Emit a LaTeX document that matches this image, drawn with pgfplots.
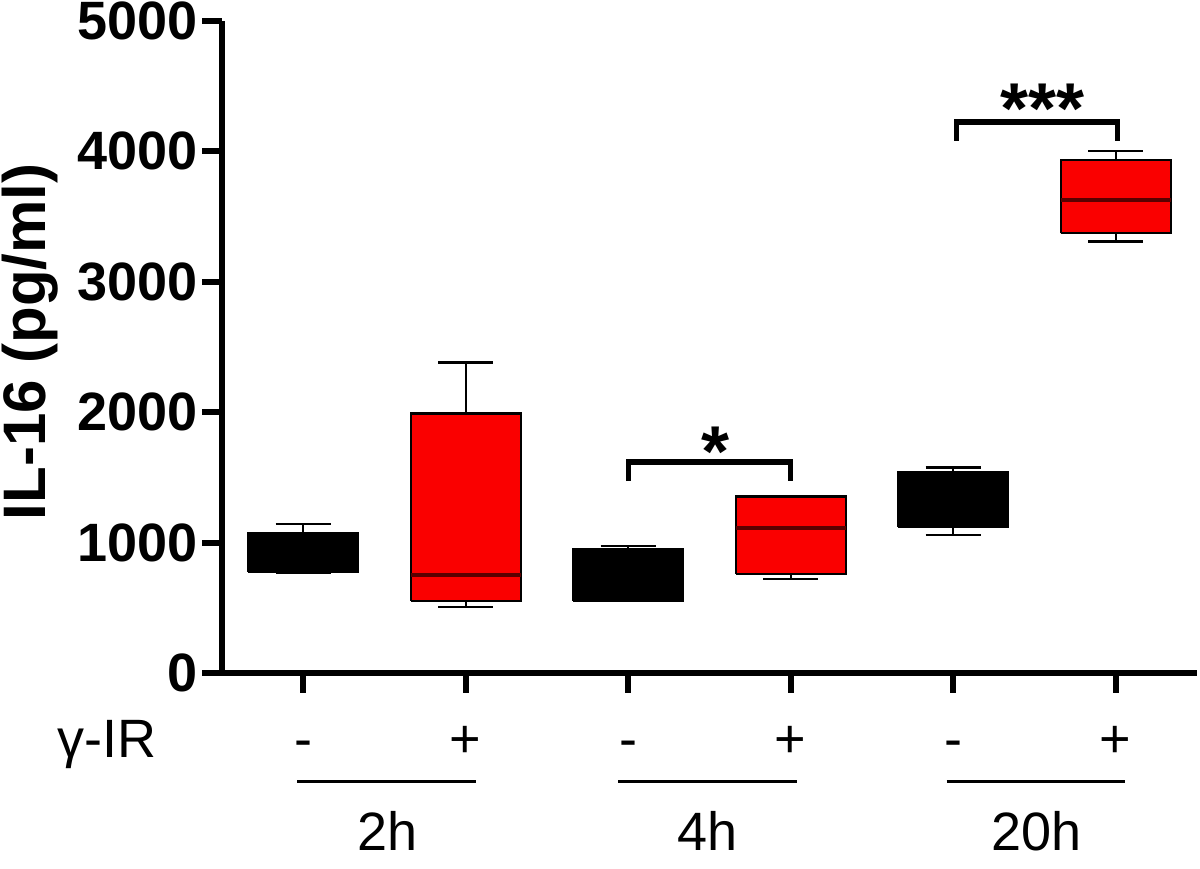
\documentclass[border=0pt]{standalone}
\usepackage{fontspec}
\setmainfont{Liberation Sans}
\usepackage{pgfplots}
\pgfplotsset{compat=1.18}

\definecolor{boxred}{RGB}{250,0,0}
\definecolor{medred}{RGB}{90,0,0}

\newcommand\tickf{\bfseries\fontsize{27bp}{32bp}\selectfont}
\newcommand\ylabf{\bfseries\fontsize{30bp}{36bp}\selectfont}
\newcommand\botf{\fontsize{27bp}{32bp}\selectfont}
\newcommand\starf{\bfseries\fontsize{36bp}{40bp}\selectfont}

\begin{document}
\begin{tikzpicture}[every node/.append style={inner sep=0pt}]
\begin{axis}[
    scale only axis,
    width=487.5bp, height=326bp,
    xmin=0.5, xmax=6.5, ymin=0, ymax=5000,
    axis x line*=bottom, axis y line*=left,
    axis line style={line width=3bp},
    xtick={1,2,3,4,5,6}, xticklabels={,,,,,},
    ytick={0,1000,2000,3000,4000,5000},
    tick align=outside, major tick length=10bp,
    major tick style={line width=3bp, black},
    /pgf/number format/assume math mode=true,
    /pgf/number format/1000 sep={},
    yticklabel style={font=\tickf, inner sep=0pt, xshift=-2bp},
    ylabel={IL-16 (pg/ml)},
    ylabel style={font=\ylabf, inner sep=0pt, at={(axis description cs:-0.1815,0.508)}, anchor=base},
    clip=false,
    every axis plot/.append style={line width=1.2bp, mark=none},
]

% boxes: lower quartile to upper quartile, half width 0.3385
% 2h -
\addplot[draw=black, fill=black] coordinates {(0.6615,776) (1.3385,776) (1.3385,1075) (0.6615,1075) (0.6615,776)};
\addplot[black] coordinates {(1,1075) (1,1144)};
\addplot[black] coordinates {(0.83,1144) (1.17,1144)};
\addplot[black] coordinates {(0.83,765) (1.17,765)};
% 2h +
\addplot[draw=black, fill=boxred] coordinates {(1.6615,553) (2.3385,553) (2.3385,1990) (1.6615,1990) (1.6615,553)};
\addplot[medred, line width=2bp] coordinates {(1.6615,753) (2.3385,753)};
\addplot[black] coordinates {(2,1990) (2,2381)};
\addplot[black] coordinates {(1.83,2381) (2.17,2381)};
\addplot[black] coordinates {(2,553) (2,507)};
\addplot[black] coordinates {(1.83,507) (2.17,507)};
% 4h -
\addplot[draw=black, fill=black] coordinates {(2.6615,553) (3.3385,553) (3.3385,952) (2.6615,952) (2.6615,553)};
\addplot[black] coordinates {(3,952) (3,975)};
\addplot[black] coordinates {(2.83,975) (3.17,975)};
% 4h +
\addplot[draw=black, fill=boxred] coordinates {(3.6615,760) (4.3385,760) (4.3385,1352) (3.6615,1352) (3.6615,760)};
\addplot[medred, line width=2bp] coordinates {(3.6615,1114) (4.3385,1114)};
\addplot[black] coordinates {(4,760) (4,722)};
\addplot[black] coordinates {(3.83,722) (4.17,722)};
% 20h -
\addplot[draw=black, fill=black] coordinates {(4.6615,1121) (5.3385,1121) (5.3385,1536) (4.6615,1536) (4.6615,1121)};
\addplot[black] coordinates {(5,1536) (5,1575)};
\addplot[black] coordinates {(4.83,1575) (5.17,1575)};
\addplot[black] coordinates {(5,1121) (5,1060)};
\addplot[black] coordinates {(4.83,1060) (5.17,1060)};
% 20h +
\addplot[draw=black, fill=boxred] coordinates {(5.6615,3372) (6.3385,3372) (6.3385,3932) (5.6615,3932) (5.6615,3372)};
\addplot[medred, line width=2bp] coordinates {(5.6615,3625) (6.3385,3625)};
\addplot[black] coordinates {(6,3932) (6,4001)};
\addplot[black] coordinates {(5.83,4001) (6.17,4001)};
\addplot[black] coordinates {(6,3372) (6,3310)};
\addplot[black] coordinates {(5.83,3310) (6.17,3310)};

% significance brackets
\draw[line width=2.6bp] (axis cs:3,1472) -- (axis cs:3,1618) -- (axis cs:4,1618) -- (axis cs:4,1472);
\node[font=\starf, anchor=base] at (axis cs:3.54,1510) {*};
\draw[line width=2.6bp] (axis cs:5.02,4080) -- (axis cs:5.02,4225) -- (axis cs:6.01,4225) -- (axis cs:6.01,4080);
\node[font=\starf, anchor=base] at (axis cs:5.55,4140) {***};

% condition rows
\node[font=\botf, anchor=base] at (axis cs:-0.206,-652) {γ-IR};
\node[font=\botf, anchor=base] at (axis cs:1,-652) {-};
\node[font=\botf, anchor=base] at (axis cs:2,-652) {+};
\node[font=\botf, anchor=base] at (axis cs:3,-652) {-};
\node[font=\botf, anchor=base] at (axis cs:4,-652) {+};
\node[font=\botf, anchor=base] at (axis cs:5,-652) {-};
\node[font=\botf, anchor=base] at (axis cs:6,-652) {+};
\draw[line width=1.5bp] (axis cs:0.963,-836) -- (axis cs:2.06,-836);
\draw[line width=1.5bp] (axis cs:2.94,-836) -- (axis cs:4.04,-836);
\draw[line width=1.5bp] (axis cs:4.96,-836) -- (axis cs:6.06,-836);
\node[font=\botf, anchor=base] at (axis cs:1.517,-1365) {2h};
\node[font=\botf, anchor=base] at (axis cs:3.49,-1365) {4h};
\node[font=\botf, anchor=base] at (axis cs:5.51,-1365) {20h};

\path (rel axis cs:-0.2277,-0.3006) rectangle (rel axis cs:1.0031,1.0322);
\end{axis}
\end{tikzpicture}
\end{document}
